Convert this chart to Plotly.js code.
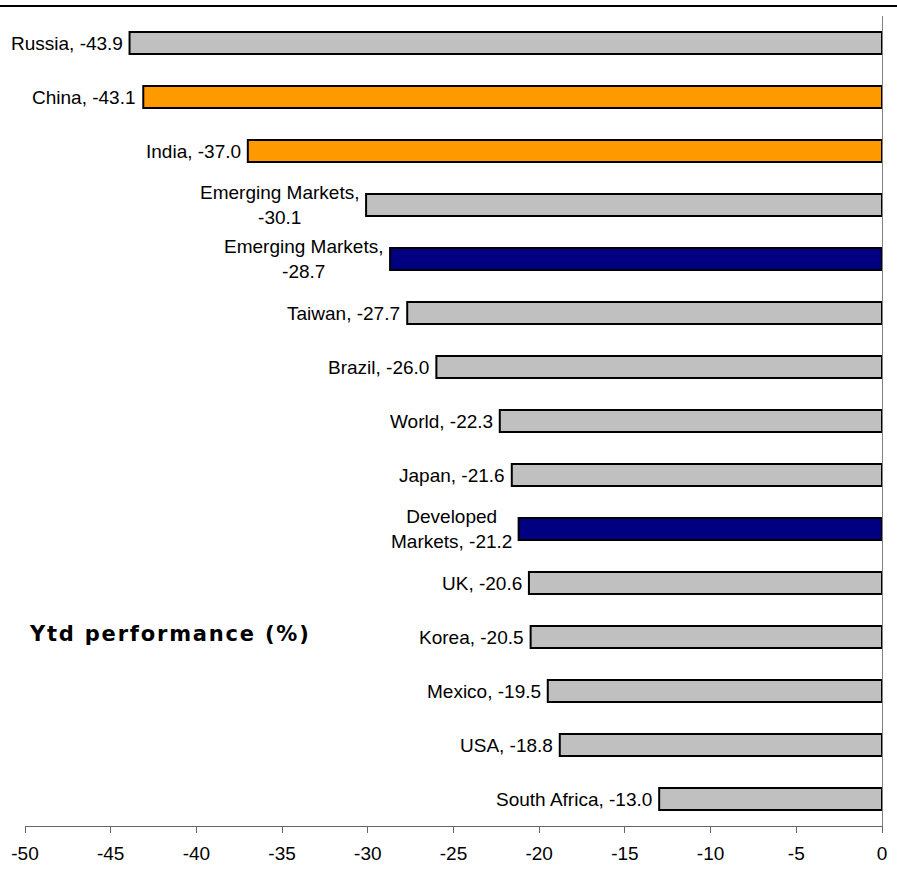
<!DOCTYPE html>
<html>
<head>
<meta charset="utf-8">
<script src="https://cdn.plot.ly/plotly-3.0.1.min.js"></script>
<style>
  html, body { margin: 0; padding: 0; background: #ffffff; }
  #chart { width: 897px; height: 879px; }
  /* wide tracking for the chart caption */
  .annotation[data-index="15"] text.annotation-text { letter-spacing: 1.8px; }
</style>
</head>
<body>
<div id="chart"></div>
<script>
// Year-to-date equity market performance, %
const markets = [
  'Russia', 'China', 'India', 'Emerging Markets', 'Emerging Markets',
  'Taiwan', 'Brazil', 'World', 'Japan', 'Developed Markets',
  'UK', 'Korea', 'Mexico', 'USA', 'South Africa'
];
const ytdReturn = [
  -43.9, -43.1, -37.0, -30.1, -28.7,
  -27.7, -26.0, -22.3, -21.6, -21.2,
  -20.6, -20.5, -19.5, -18.8, -13.0
];
// peer = other markets, focus = highlighted markets, benchmark = index aggregates
const marketGroup = [
  'peer', 'focus', 'focus', 'peer', 'benchmark',
  'peer', 'peer', 'peer', 'peer', 'benchmark',
  'peer', 'peer', 'peer', 'peer', 'peer'
];
const xTicks = [-50, -45, -40, -35, -30, -25, -20, -15, -10, -5, 0];

const groupColour = { peer: '#C0C0C0', focus: '#FF9900', benchmark: '#000080' };
const rowIndex = markets.map((_, i) => i);

// Label text "Name, value"; long aggregate names wrap onto two lines
function labelText(name, v) {
  const val = v.toFixed(1);
  if (name === 'Emerging Markets') return name + ',<br>' + val;
  if (name === 'Developed Markets') return 'Developed<br>Markets, ' + val;
  return name + ', ' + val;
}

const labelFont = { family: 'Liberation Sans, Arial, sans-serif', size: 19, color: '#000000' };

const trace = {
  type: 'bar',
  orientation: 'h',
  x: ytdReturn,
  y: rowIndex,
  width: 0.41,
  marker: {
    color: marketGroup.map(g => groupColour[g]),
    line: { color: '#000000', width: 2 }
  },
  hovertext: markets,
  hoverinfo: 'text+x'
};

const annotations = markets.map((name, i) => ({
  x: ytdReturn[i],
  y: i,
  xref: 'x',
  yref: 'y',
  text: labelText(name, ytdReturn[i]),
  showarrow: false,
  xanchor: 'right',
  yanchor: 'middle',
  align: 'center',
  xshift: -5,
  font: labelFont
}));

annotations.push({
  xref: 'paper',
  yref: 'paper',
  x: 0.002,
  y: 0.237,
  xanchor: 'left',
  yanchor: 'middle',
  align: 'left',
  text: '<b>Ytd performance (%)</b>',
  showarrow: false,
  font: { family: 'DejaVu Sans, Verdana, sans-serif', size: 21, color: '#000000' }
});

const layout = {
  width: 897,
  height: 879,
  margin: { l: 25, r: 15, t: 16, b: 53 },
  paper_bgcolor: '#ffffff',
  plot_bgcolor: '#ffffff',
  showlegend: false,
  bargap: 0,
  xaxis: {
    range: [-50, 0],
    tickvals: xTicks,
    ticktext: xTicks.map(String),
    ticks: 'outside',
    ticklen: 6,
    tickwidth: 1,
    tickcolor: '#666666',
    ticklabelstandoff: 4,
    showline: true,
    linecolor: '#666666',
    linewidth: 1,
    showgrid: false,
    zeroline: false,
    tickfont: labelFont
  },
  yaxis: {
    range: [14.5, -0.5],
    side: 'right',
    showline: true,
    linecolor: '#808080',
    linewidth: 1,
    showgrid: false,
    zeroline: false,
    showticklabels: false,
    ticks: ''
  },
  shapes: [{
    type: 'line',
    xref: 'paper',
    yref: 'paper',
    x0: -0.03,
    x1: 1.02,
    y0: 1.0123,
    y1: 1.0123,
    line: { color: '#000000', width: 2 }
  }],
  annotations: annotations
};

Plotly.newPlot('chart', [trace], layout, { displayModeBar: false, staticPlot: true });
</script>
</body>
</html>
